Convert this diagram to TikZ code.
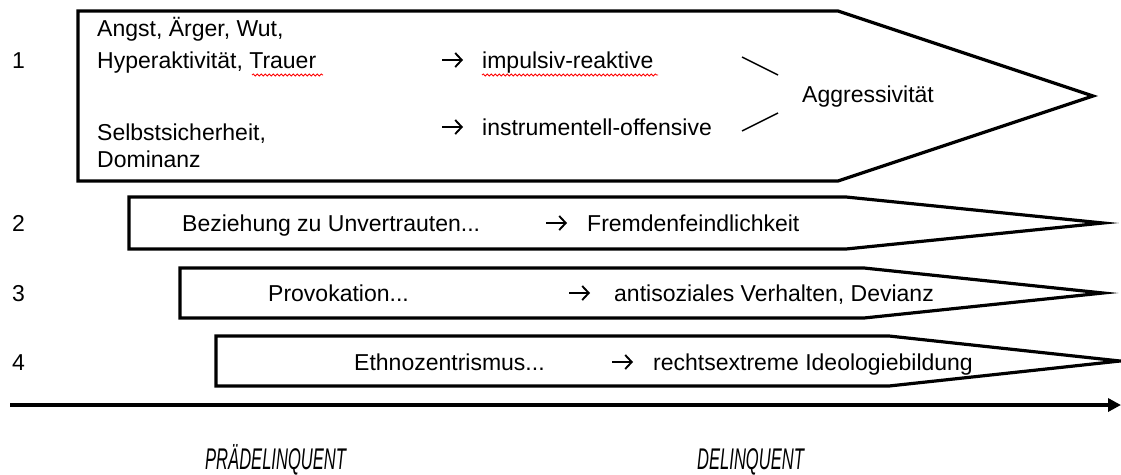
\documentclass[tikz,border=0pt]{standalone}
\usepackage{fontspec}
\setmainfont{Liberation Sans}
\usetikzlibrary{arrows.meta,decorations.pathmorphing}
\begin{document}
\begin{tikzpicture}[x=1pt,y=-1pt,
  stage/.style={draw=black, line width=3.2pt, line join=miter, fill=white},
  txt/.style={anchor=base west, inner sep=0pt, font=\fontsize{23}{27}\selectfont},
  phase/.style={anchor=base west, inner sep=0pt, font=\fontsize{23}{27}\selectfont\itshape},
  spell/.style={draw=red, line width=0.8pt, decorate, decoration={snake, amplitude=1.1pt, segment length=4pt}},
  link/.style={draw=black, line width=1.5pt},
  leadsto/.style={draw=black, line width=1.9pt, -{Straight Barb[length=6.5pt,width=14pt]}},
  timeline/.style={draw=black, line width=4.5pt, -{Triangle[length=13pt,width=13pt]}}
]
\fill[white] (0,0) rectangle (1121,474);
\useasboundingbox (0,0) rectangle (1121,474);

% the four development strands
\draw[stage] (78,11) -- (838,11) -- (1093,96) -- (838,181) -- (78,181) -- cycle;
\draw[stage] (129,197) -- (846,197) -- (1103,223) -- (846,249) -- (129,249) -- cycle;
\draw[stage] (180,268) -- (864,268) -- (1103,293) -- (864,318) -- (180,318) -- cycle;
\draw[stage] (216,336) -- (889,336) -- (1120,361) -- (889,386) -- (216,386) -- cycle;

% row numbers
\node[txt] (n1) at (12,68) {1};
\node[txt] (n2) at (12,231) {2};
\node[txt] (n3) at (12,301) {3};
\node[txt] (n4) at (12,370) {4};

% strand 1
\node[txt] (angst)  at (97,36)  {Angst, Ärger, Wut,};
\node[txt] (hyper)  at (97,68)  {Hyperaktivität, Trauer};
\node[txt] (selbst) at (97,140) {Selbstsicherheit,};
\node[txt] (domin)  at (97,167) {Dominanz};
\node[txt] (impuls) at (482,68)  {impulsiv-reaktive};
\node[txt] (instr)  at (482,135) {instrumentell-offensive};
\node[txt] (aggr)   at (802,102) {Aggressivität};
\coordinate (aA) at (442,60);  \coordinate (aB) at (442,127);
\draw[leadsto] (aA) -- ++(21,0);
\draw[leadsto] (aB) -- ++(21,0);
\coordinate (lA1) at (742,57);  \coordinate (lA2) at (778,75);
\coordinate (lB1) at (742,131); \coordinate (lB2) at (778,113);
\draw[link] (lA1) -- (lA2);
\draw[link] (lB1) -- (lB2);
\draw[spell] (252,75) -- (323,75);
\draw[spell] (482,75) -- (658,75);

% strand 2
\node[txt] (bez)    at (182,231) {Beziehung zu Unvertrauten...};
\node[txt] (fremd)  at (587,231) {Fremdenfeindlichkeit};
\coordinate (a2) at (546,223);
\draw[leadsto] (a2) -- ++(21,0);

% strand 3
\node[txt] (prov)   at (268,301) {Provokation...};
\node[txt] (anti)   at (614,301) {antisoziales Verhalten, Devianz};
\coordinate (a3) at (569,293);
\draw[leadsto] (a3) -- ++(21,0);

% strand 4
\node[txt] (ethno)  at (354,370) {Ethnozentrismus...};
\node[txt] (recht)  at (653,370) {rechtsextreme Ideologiebildung};
\coordinate (a4) at (612,362);
\draw[leadsto] (a4) -- ++(21,0);

% time axis
\coordinate (t0) at (10,405);
\coordinate (t1) at (1121,405);
\draw[timeline] (t0) -- (t1);
\node[phase] (pre) at (205,469) {\scalebox{0.72}[1.3]{PRÄDELINQUENT}};
\node[phase] (del) at (697,469) {\scalebox{0.72}[1.3]{DELINQUENT}};
\end{tikzpicture}
\end{document}
